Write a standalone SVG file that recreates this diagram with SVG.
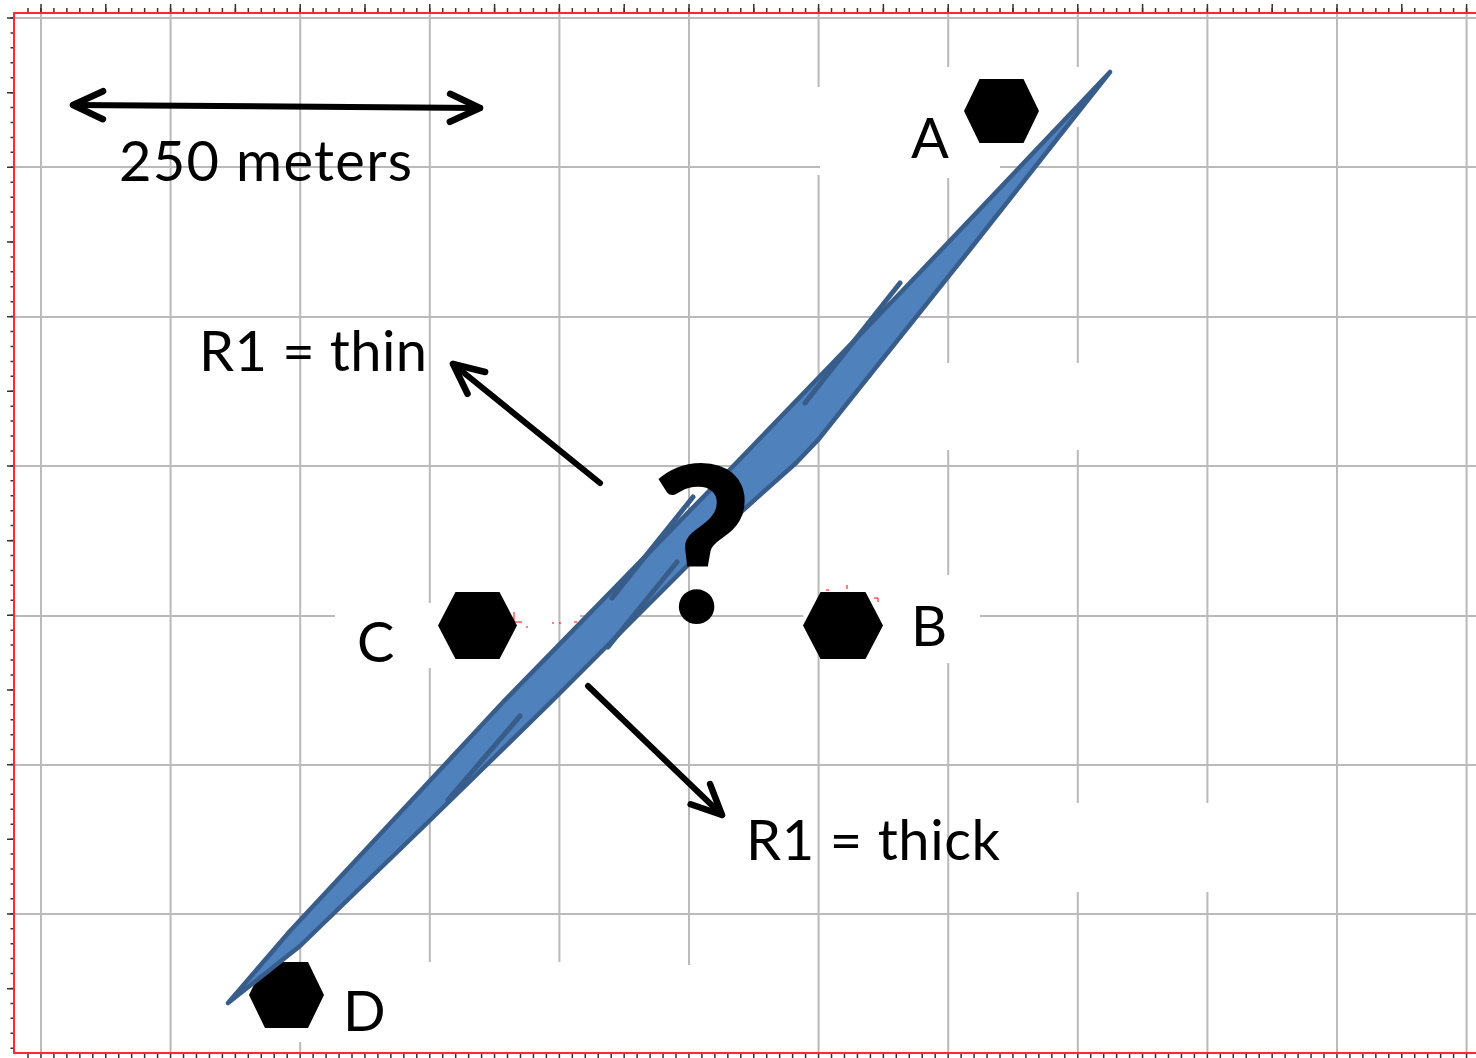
<svg xmlns="http://www.w3.org/2000/svg" width="1476" height="1058" viewBox="0 0 1476 1058">
<defs>
<style>
.grid{fill:none;stroke:#bababa;stroke-width:2}
.frame{fill:none;stroke:#ff2a2a;stroke-width:2}
.tick{fill:none;stroke:#333}
.hex{fill:#000}
.band{fill:#4f81bd;stroke:#385d8a;stroke-width:4.5;stroke-linejoin:round}
.scr{fill:none;stroke:#385d8a;stroke-width:5;stroke-linecap:round}
.lbl{font-family:Lato,'Open Sans','Liberation Sans',sans-serif;font-size:56px;fill:#000}
.arrow{fill:none;stroke:#000;stroke-width:6;stroke-linecap:round}
</style>
<marker id="chev" markerUnits="userSpaceOnUse" viewBox="-40 -25 50 50" markerWidth="50" markerHeight="50" refX="0" refY="0" orient="auto-start-reverse">
<path d="M-30,-14 L0,0 L-30,14" fill="none" stroke="#000" stroke-width="6.5" stroke-linecap="round" stroke-linejoin="round"/>
</marker>
</defs>
<rect width="1476" height="1058" fill="#fff"/>
<g id="grid">
<path class="grid" d="M41,13V1053 M170.6,13V1053 M300.2,13V962 M300.2,1042V1053 M429.8,13V603 M429.8,668V962 M559.4,13V962 M689,13V965 M818.6,13V87 M818.6,175V1053 M948.2,13V67 M948.2,178V363 M948.2,450V575 M948.2,663V1053 M1077.8,13V67 M1077.8,127V363 M1077.8,450V803 M1077.8,892V1053 M1207.4,13V803 M1207.4,892V1053 M1337,13V1053 M1466.6,13V1053"/>
<path class="grid" d="M14,18H1476 M14,167H820 M1000,167H1476 M14,317H1476 M14,466H1476 M14,616H335 M580,616H803 M980,616H1476 M14,765H1476 M14,914H1476"/>
</g>
<g id="frame">
<path class="tick" stroke-width="5" stroke-dasharray="1.5 11.46" d="M27.25,10.5H1476"/>
<path class="tick" stroke-width="9" stroke-dasharray="1.5 63.3" d="M40.25,8.5H1476"/>
<path class="tick" stroke-width="4" stroke-dasharray="1.5 11.46" d="M27.25,1056H1476"/>
<path class="tick" stroke-width="4" stroke-dasharray="1.5 13.43" d="M12.5,17.25V1053"/>
<path class="tick" stroke-width="7" stroke-dasharray="1.5 73.17" d="M10.5,17.25V1053"/>
<path class="frame" d="M1476,13H14V1053H1476"/>
</g>
<g id="artifacts" fill="none" stroke="#f00" stroke-width="1">
<path d="M514,612V622H522 M526,627h2 M552,623h2 M559,623h2 M574,622h3"/>
<path d="M826,590h3 M847,585v4 M874,598h4v4"/>
</g>
<g id="node-A">
<polygon class="hex" points="964,111 979.5,79 1023.5,79 1039,111 1023.5,143 979.5,143"/>
<text class="lbl" x="911" y="158" font-size="55">A</text>
</g>
<g id="node-B">
<polygon class="hex" points="803,625.5 820.5,592 865.5,592 883,625.5 865.5,659 820.5,659"/>
<text class="lbl" x="911" y="646" font-size="55">B</text>
</g>
<g id="node-C">
<polygon class="hex" points="438,625.5 455.5,592 499.5,592 517,625.5 499.5,659 455.5,659"/>
<text class="lbl" x="357" y="662" font-size="55">C</text>
</g>
<g id="node-D">
<polygon class="hex" points="249,995 265,962 308,962 324,995 308,1028 265,1028"/>
<text class="lbl" x="343" y="1031" font-size="55">D</text>
</g>
<g id="band">
<path class="band" d="M1110,72 L1072,120 L968,252 L818,440 L796,463 L740,513 L553,700 L420,830 L300,946 L228,1003 L290,931 L505,700 L713,487 L905,288 Z"/>
<path class="scr" d="M900,283 L805,403 M693,497 L612,598 M677,562 L608,647 M520,716 L448,800"/>
</g>
<g id="question">
<text x="702" y="622" text-anchor="middle" font-family="Lato,'Open Sans','Liberation Sans',sans-serif" font-weight="900" font-size="218" fill="#000">?</text>
</g>
<g id="connectors">
<path class="arrow" d="M73,105 L480,108" marker-start="url(#chev)" marker-end="url(#chev)"/>
<path class="arrow" d="M600,483 L453,364" marker-end="url(#chev)"/>
<path class="arrow" d="M588,686 L722,815" marker-end="url(#chev)"/>
</g>
<g id="labels">
<text class="lbl" x="119" y="181" font-size="57" textLength="293">250 meters</text>
<text class="lbl" x="199" y="371" font-size="55" textLength="228">R1 = thin</text>
<text class="lbl" x="746" y="860" textLength="254">R1 = thick</text>
</g>
</svg>
